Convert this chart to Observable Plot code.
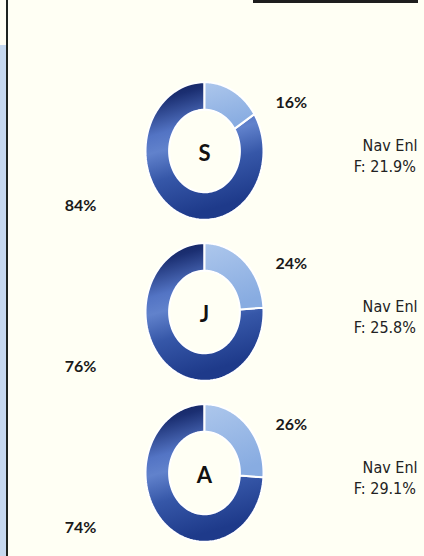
<!DOCTYPE html>
<html><head><meta charset="utf-8">
<script src="https://cdn.jsdelivr.net/npm/d3@7"></script>
<script src="https://cdn.jsdelivr.net/npm/@observablehq/plot@0.6"></script>
<style>
html,body{margin:0;padding:0;background:#fffff4;overflow:hidden}
#wrap{position:relative;width:424px;height:556px;overflow:hidden}
#wrap svg{display:block}
.strip{position:absolute;left:0;top:45px;width:6px;height:511px;background:#c6d9ef}
.vline{position:absolute;left:6px;top:0;width:2px;height:556px;background:#1e2420}
.hline{position:absolute;left:253px;top:0;width:165px;height:3px;background:#1e1e1e}
</style></head><body><div id="wrap"></div>
<script>
// ---- data ----
const letters = ["S", "J", "A"];
const smallPct = [16, 24, 26];
const bigPct = [84, 76, 74];
const navLabel = ["Nav Enl", "Nav Enl", "Nav Enl"];
const femalePct = [21.9, 25.8, 29.1];

const rows = letters.map((letter, i) => ({
  letter, small: smallPct[i], big: bigPct[i], nav: navLabel[i], f: femalePct[i]
}));

const R_IN = 0.6;
function ring(a0, a1, letter) {
  const n = 90, pts = [];
  for (let k = 0; k <= n; k++) { const t = a0 + (a1 - a0) * k / n; pts.push({letter, x: Math.sin(t), y: Math.cos(t)}); }
  for (let k = n; k >= 0; k--) { const t = a0 + (a1 - a0) * k / n; pts.push({letter, x: R_IN * Math.sin(t), y: R_IN * Math.cos(t)}); }
  pts.push(pts[0]);
  return pts;
}
const smallPts = rows.flatMap(d => ring(0, d.small / 100 * 2 * Math.PI, d.letter));
const bigPts = rows.flatMap(d => ring(d.small / 100 * 2 * Math.PI, (d.small + d.big) / 100 * 2 * Math.PI, d.letter));

const CX = 204, RX = 59, W = 424, H = 556;
const pctFont = "Lato, 'Open Sans', sans-serif";
const navFont = "'DejaVu Sans Condensed', 'Liberation Sans Narrow', 'DejaVu Sans', sans-serif";

const svg = Plot.plot({
  width: W, height: H,
  marginTop: 69, marginBottom: 2, marginLeft: 0, marginRight: 0,
  style: {background: "#fffff4", overflow: "hidden"},
  x: {domain: [-CX / RX, (W - CX) / RX], axis: null},
  y: {domain: [-1.17, 1.17], axis: null},
  fy: {domain: letters, padding: 0, axis: null},
  marks: [
    Plot.line(bigPts, {x: "x", y: "y", z: "letter", fy: "letter", fill: "url(#gBig)", stroke: "#ffffff", strokeWidth: 2, curve: "linear"}),
    Plot.line(smallPts, {x: "x", y: "y", z: "letter", fy: "letter", fill: "url(#gSmall)", stroke: "#ffffff", strokeWidth: 2, curve: "linear"}),
    Plot.text(rows, {x: 0, y: 0, fy: "letter", text: "letter", dy: 3, fontSize: 22, fontWeight: "bold", fontFamily: pctFont, fill: "#111"}),
    Plot.text(rows, {x: 1.47, y: 0.70, fy: "letter", text: d => d.small + "%", fontSize: 16, fontWeight: "bold", fontFamily: pctFont, fill: "#1a1a1a"}),
    Plot.text(rows, {x: -2.1, y: -0.8, fy: "letter", text: d => d.big + "%", fontSize: 16, fontWeight: "bold", fontFamily: pctFont, fill: "#1a1a1a"}),
    Plot.text(rows, {x: 2.68, y: 0.07, fy: "letter", text: "nav", textAnchor: "start", fontSize: 16, fontFamily: navFont, fill: "#222"}),
    Plot.text(rows, {x: 2.53, y: -0.23, fy: "letter", text: d => "F: " + d.f.toFixed(1) + "%", textAnchor: "start", fontSize: 16, fontFamily: navFont, fill: "#222"})
  ]
});

const defs = d3.select(svg).insert("defs", ":first-child");
const gb = defs.append("linearGradient").attr("id", "gBig").attr("x1", 0).attr("y1", 0).attr("x2", 0.25).attr("y2", 1);
[[0, "#111f55"], [0.15, "#1b2f72"], [0.38, "#5374c4"], [0.5, "#6182cc"], [0.7, "#3657a8"], [1, "#1e3a8a"]]
  .forEach(([o, c]) => gb.append("stop").attr("offset", o).attr("stop-color", c));
const gs = defs.append("linearGradient").attr("id", "gSmall").attr("x1", 0).attr("y1", 0).attr("x2", 0.3).attr("y2", 1);
[[0, "#adc7ec"], [1, "#88ace1"]]
  .forEach(([o, c]) => gs.append("stop").attr("offset", o).attr("stop-color", c));

const wrap = document.getElementById("wrap");
wrap.appendChild(svg);
for (const cls of ["strip", "vline", "hline"]) {
  const el = document.createElement("div"); el.className = cls; wrap.appendChild(el);
}
</script>
</body></html>
